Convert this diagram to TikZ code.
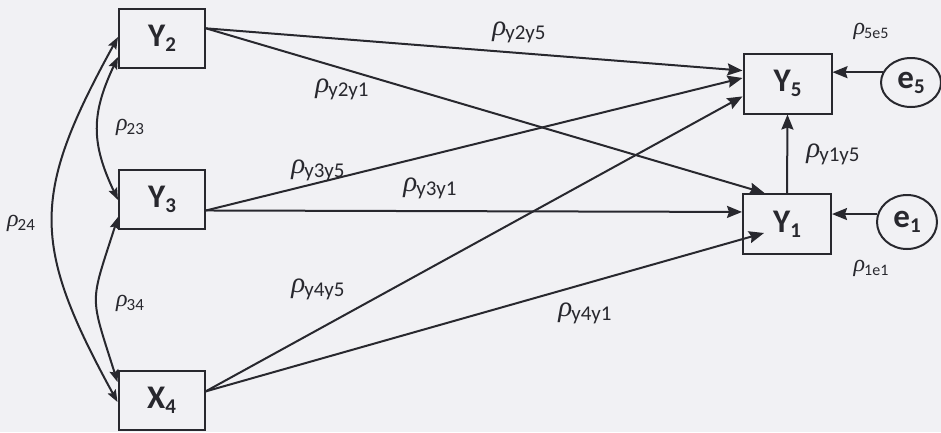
\documentclass[tikz,border=0pt]{standalone}
\usepackage{fontspec}
\setmainfont{Carlito}
\newfontfamily\grkfont{Liberation Serif}
\usetikzlibrary{arrows.meta,shapes.geometric}
\definecolor{ink}{RGB}{40,40,46}
\definecolor{paper}{RGB}{241,241,244}
\newcommand\subtx[1]{\raisebox{-5pt}{\fontsize{21}{21}\selectfont #1}}
\newcommand\rholab[3]{{\grkfont\itshape\fontsize{#1}{#1}\selectfont ρ}\kern-1pt\raisebox{-4pt}{\fontsize{#2}{#2}\selectfont #3}}
\tikzset{
  box/.style={draw=ink, line width=2pt, minimum width=86pt, minimum height=59pt, inner sep=0pt,
    text=ink, font=\bfseries\fontsize{33}{33}\selectfont},
  bigbox/.style={box, minimum width=88pt, minimum height=60pt},
  circ/.style={draw=ink, line width=2pt, ellipse, inner sep=0pt, text=ink,
    font=\bfseries\fontsize{33}{33}\selectfont},
  arr/.style={draw=ink, line width=2pt, -{Stealth[length=15pt,width=12pt,inset=2pt]}},
  carr/.style={draw=ink, line width=2pt, {Stealth[length=12pt,width=9pt,inset=2pt]}-{Stealth[length=12pt,width=9pt,inset=2pt]}},
  lab/.style={inner sep=0pt, text=ink, font=\fontsize{20}{20}\selectfont}
}
\begin{document}
\begin{tikzpicture}[x=1pt,y=-1pt]
\fill[paper] (0,0) rectangle (941,432);
\useasboundingbox (0,0) rectangle (941,432);

% boxes
\node[box] (Y2) at (162,38.5) {Y\subtx{2}};
\node[box] (Y3) at (162,199.5) {Y\subtx{3}};
\node[box] (X4) at (161.5,400) {X\subtx{4}};
\node[bigbox] (Y5) at (787.5,83.5) {Y\subtx{5}};
\node[bigbox] (Y1) at (787,224) {Y\subtx{1}};
\node[circ, minimum width=60pt, minimum height=49pt] (e5) at (911,82.5) {e\subtx{5}};
\node[circ, minimum width=60pt, minimum height=54pt] (e1) at (907,222) {e\subtx{1}};

% helper heights for curve ends
\coordinate (h37) at (0,37);
\coordinate (h57) at (0,57);
\coordinate (h200) at (0,200);
\coordinate (h217) at (0,217);
\coordinate (h382) at (0,382);
\coordinate (h402) at (0,402);
\coordinate (t41) at (764,233);

% correlations
\draw[carr] (Y2.west |- h37) .. controls (31,195) and (31,244) .. (X4.west |- h402);
\draw[carr] (Y2.west |- h57) .. controls (91,114) and (91,143) .. (Y3.west |- h200);
\draw[carr] (Y3.west |- h217) .. controls (89.5,306) and (89.5,293) .. (X4.west |- h382);

% paths
\draw[arr] (Y2.13) -- (Y5.164);
\draw[arr] (Y2.13) -- (Y1.126);
\draw[arr] (Y3.346) -- (Y5.173);
\draw[arr] (Y3.346) -- (Y1.165);
\draw[arr] (X4.11) -- (Y5.196);
\draw[arr] (X4.11) -- (t41);
\draw[arr] (Y1.north) -- (Y5.south);
\draw[arr] (e5.160) -- (e5.160 -| Y5.east);
\draw[arr] (e1.165) -- (e1.165 -| Y1.east);

% labels
\node[lab] (l23) at (130,127) {\rholab{24}{17}{23}};
\node[lab] (l24) at (21,223) {\rholab{24}{17}{24}};
\node[lab] (l34) at (130,303) {\rholab{24}{17}{34}};
\node[lab] (l25) at (519,32) {\rholab{29}{21}{y2y5}};
\node[lab] (l21) at (342,89) {\rholab{29}{21}{y2y1}};
\node[lab] (l35) at (318,170) {\rholab{29}{21}{y3y5}};
\node[lab] (l31) at (430,188) {\rholab{29}{21}{y3y1}};
\node[lab] (l45) at (318,289) {\rholab{29}{21}{y4y5}};
\node[lab] (l41) at (585,313) {\rholab{29}{21}{y4y1}};
\node[lab] (l15) at (833,154) {\rholab{29}{21}{y1y5}};
\node[lab] (l5e) at (871,31) {\rholab{24}{16}{5e5}};
\node[lab] (l1e) at (871,268) {\rholab{24}{16}{1e1}};
\end{tikzpicture}
\end{document}
